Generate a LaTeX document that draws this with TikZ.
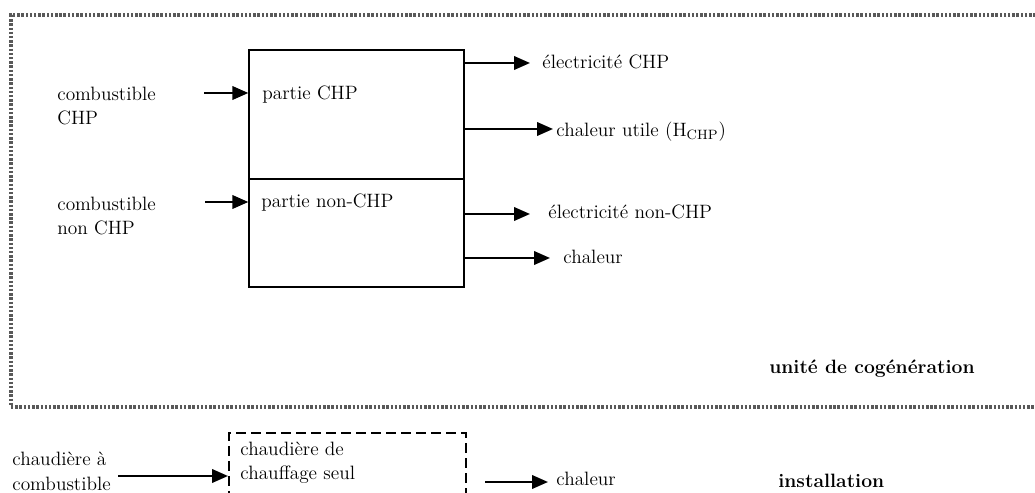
\documentclass[tikz,border=0pt]{standalone}
\usepackage{fontspec}
\usetikzlibrary{arrows.meta}

\begin{document}
\begin{tikzpicture}[x=0.02cm,y=-0.02cm,
  flow/.style={-{Triangle[length=0.32cm,width=0.27cm]},line width=1.3pt},
  part/.style={draw,line width=0.8pt,minimum width=4.3cm,inner sep=0},
  alone/.style={draw,line width=1.1pt,dash pattern=on 0.2cm off 0.1cm,minimum width=4.74cm,minimum height=1.96cm,inner sep=0},
  txt/.style={inner sep=0,align=left,font=\fontsize{11}{14}\selectfont},
  ttl/.style={inner sep=0,font=\fontsize{11}{14}\selectfont\bfseries},
  border/.style={line width=2pt,black!65,dash pattern=on 1.4pt off 1pt}]

\useasboundingbox (0,0) rectangle (1035,493);

% Define coordinates
\coordinate (inchp) at (204,93);
\coordinate (innon) at (205,202);
\coordinate (tipelec) at (530,63);
\coordinate (tipheat) at (553,129);
\coordinate (tipelecn) at (530,214);
\coordinate (tipheatn) at (550,258);
\coordinate (inboil) at (118,476);
\coordinate (outboil) at (485,482);
\coordinate (tipboil) at (548,482);

% Cogeneration unit border
\draw[border] (1040,15) -- (11,15) -- (11,407) -- (1040,407);

% CHP and non-CHP parts
\node[part,minimum height=2.58cm] (chp) at (356.5,114.5) {};
\node[part,minimum height=2.16cm] (nonchp) at (356.5,233) {};
\node[txt,anchor=mid west] (chptxt) at (262,96) {partie CHP};
\node[txt,anchor=mid west] (nontxt) at (261,204) {partie non-CHP};

% Inputs
\node[txt,anchor=north west] (fuelchp) at (57,86.5) {combustible\\CHP};
\node[txt,anchor=north west] (fuelnon) at (57,196.5) {combustible\\non CHP};
\draw[flow] (inchp) -- (inchp -| chp.west);
\draw[flow] (innon) -- (innon -| nonchp.west);

% Outputs
\node[txt,anchor=mid west] (elec) at (542,65) {électricité CHP};
\node[txt,anchor=mid west] (heat) at (556,133) {chaleur utile (H\textsubscript{CHP})};
\node[txt,anchor=mid west] (elecn) at (548,215) {électricité non-CHP};
\node[txt,anchor=mid west] (heatn) at (563,260) {chaleur};
\draw[flow] (chp.east |- tipelec) -- (tipelec);
\draw[flow] (chp.east |- tipheat) -- (tipheat);
\draw[flow] (nonchp.east |- tipelecn) -- (tipelecn);
\draw[flow] (nonchp.east |- tipheatn) -- (tipheatn);

\node[ttl,anchor=base east] (unit) at (975,374) {unité de cogénération};

% Heat-only boiler
\node[alone,anchor=north west] (boiler) at (228,432) {};
\node[txt,anchor=north west] (boiltxt) at (240,441.5) {chaudière de\\chauffage seul};
\node[txt,anchor=north west] (fuelboil) at (12,452) {chaudière à\\combustible};
\draw[flow] (inboil) -- (inboil -| boiler.west);
\draw[flow] (outboil) -- (tipboil);
\node[txt,anchor=mid west] (heatb) at (556,482) {chaleur};
\node[ttl,anchor=base west] (inst) at (778,487) {installation};

\end{tikzpicture}
\end{document}
